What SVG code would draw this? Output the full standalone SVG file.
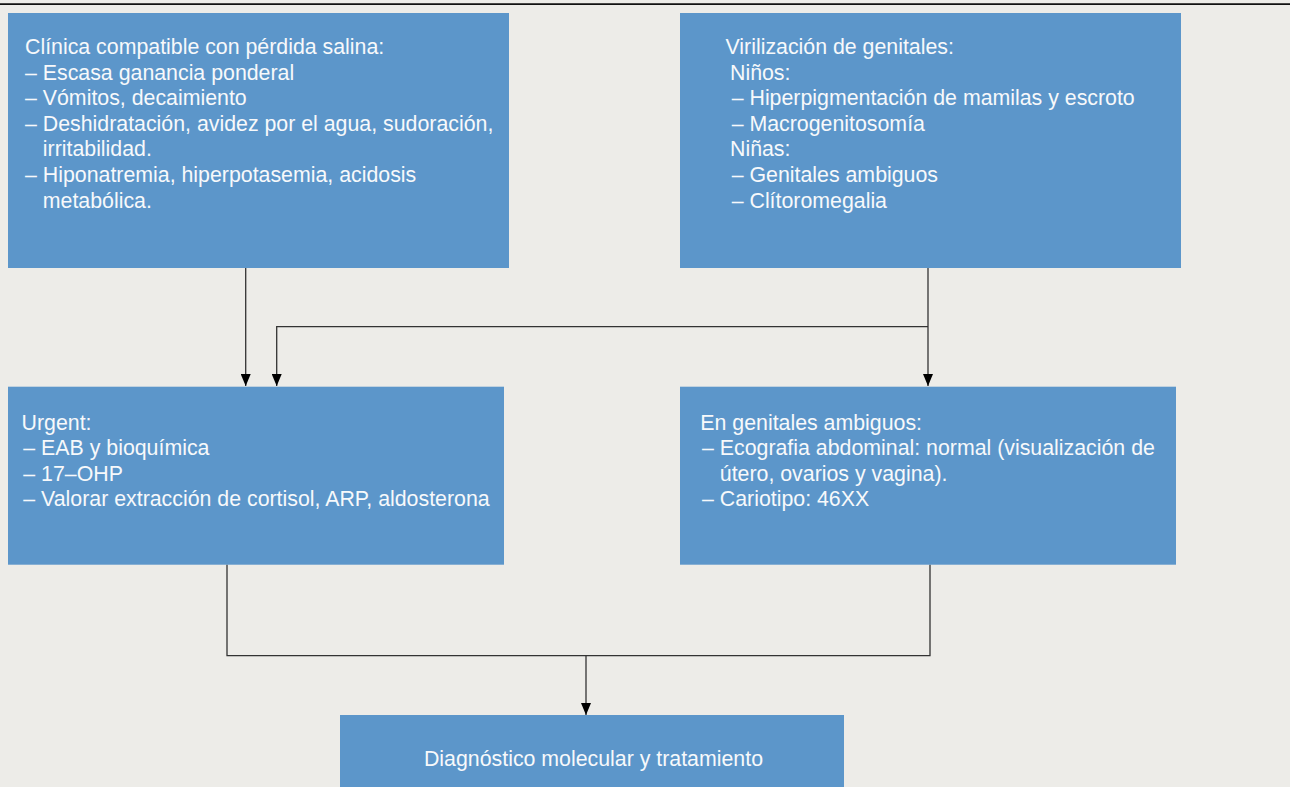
<svg xmlns="http://www.w3.org/2000/svg" width="1290" height="787" viewBox="0 0 1290 787">
<style>
.box{fill:#5C96CA}
.t{font-family:"Liberation Sans",Arial,Helvetica,sans-serif;font-size:21.33px;fill:#F7F9FB}
.c{fill:none;stroke:#333;stroke-width:1.3}
</style>
<defs>
<marker id="ah" markerWidth="12" markerHeight="10" refX="12" refY="5" orient="auto" markerUnits="userSpaceOnUse" viewBox="0 0 12 10">
<path d="M0,0 L12,5 L0,10 Z" fill="#000"/>
</marker>
</defs>
<rect x="0" y="0" width="1290" height="787" fill="#EDECE8"/>
<line x1="0" y1="4.2" x2="1290" y2="4.2" stroke="#111" stroke-width="1.8"/>

<g id="connectors">
<path class="c" d="M245.7,268 V386" marker-end="url(#ah)"/>
<path class="c" d="M928,268 V386" marker-end="url(#ah)"/>
<path class="c" d="M928,326.7 H276.7 V386" marker-end="url(#ah)"/>
<path class="c" d="M227,564.5 V655.7 H930 V564.5"/>
<path class="c" d="M586,655.7 V715" marker-end="url(#ah)"/>
</g>

<g id="node-clinica">
<rect class="box" x="8" y="13" width="501" height="255"/>
<text class="t" x="25" y="54">Clínica compatible con pérdida salina:</text>
<text class="t" x="25" y="79.6">– Escasa ganancia ponderal</text>
<text class="t" x="25" y="105.2">– Vómitos, decaimiento</text>
<text class="t" x="25" y="130.8">– Deshidratación, avidez por el agua, sudoración,</text>
<text class="t" x="42.8" y="156.4">irritabilidad.</text>
<text class="t" x="25" y="182">– Hiponatremia, hiperpotasemia, acidosis</text>
<text class="t" x="42.8" y="207.6">metabólica.</text>
</g>

<g id="node-virilizacion">
<rect class="box" x="680" y="13" width="501" height="255"/>
<text class="t" x="725.5" y="54">Virilización de genitales:</text>
<text class="t" x="730" y="79.6">Niños:</text>
<text class="t" x="731.7" y="105.2">– Hiperpigmentación de mamilas y escroto</text>
<text class="t" x="731.7" y="130.8">– Macrogenitosomía</text>
<text class="t" x="730" y="156.4">Niñas:</text>
<text class="t" x="731.7" y="182">– Genitales ambiguos</text>
<text class="t" x="731.7" y="207.6">– Clítoromegalia</text>
</g>

<g id="node-urgent">
<rect class="box" x="8" y="386.7" width="496" height="178"/>
<text class="t" x="21.6" y="430">Urgent:</text>
<text class="t" x="23.3" y="455.4">– EAB y bioquímica</text>
<text class="t" x="23.3" y="480.8">– 17–OHP</text>
<text class="t" x="23.3" y="506.2">– Valorar extracción de cortisol, ARP, aldosterona</text>
</g>

<g id="node-ambiguos">
<rect class="box" x="680" y="386.7" width="496" height="178"/>
<text class="t" x="700.3" y="430">En genitales ambiguos:</text>
<text class="t" x="702" y="455.4">– Ecografia abdominal: normal (visualización de</text>
<text class="t" x="719.8" y="480.8">útero, ovarios y vagina).</text>
<text class="t" x="702" y="506.2">– Cariotipo: 46XX</text>
</g>

<g id="node-diagnostico">
<rect class="box" x="340" y="715" width="504" height="80"/>
<text class="t" x="593.5" y="766" text-anchor="middle">Diagnóstico molecular y tratamiento</text>
</g>
</svg>
